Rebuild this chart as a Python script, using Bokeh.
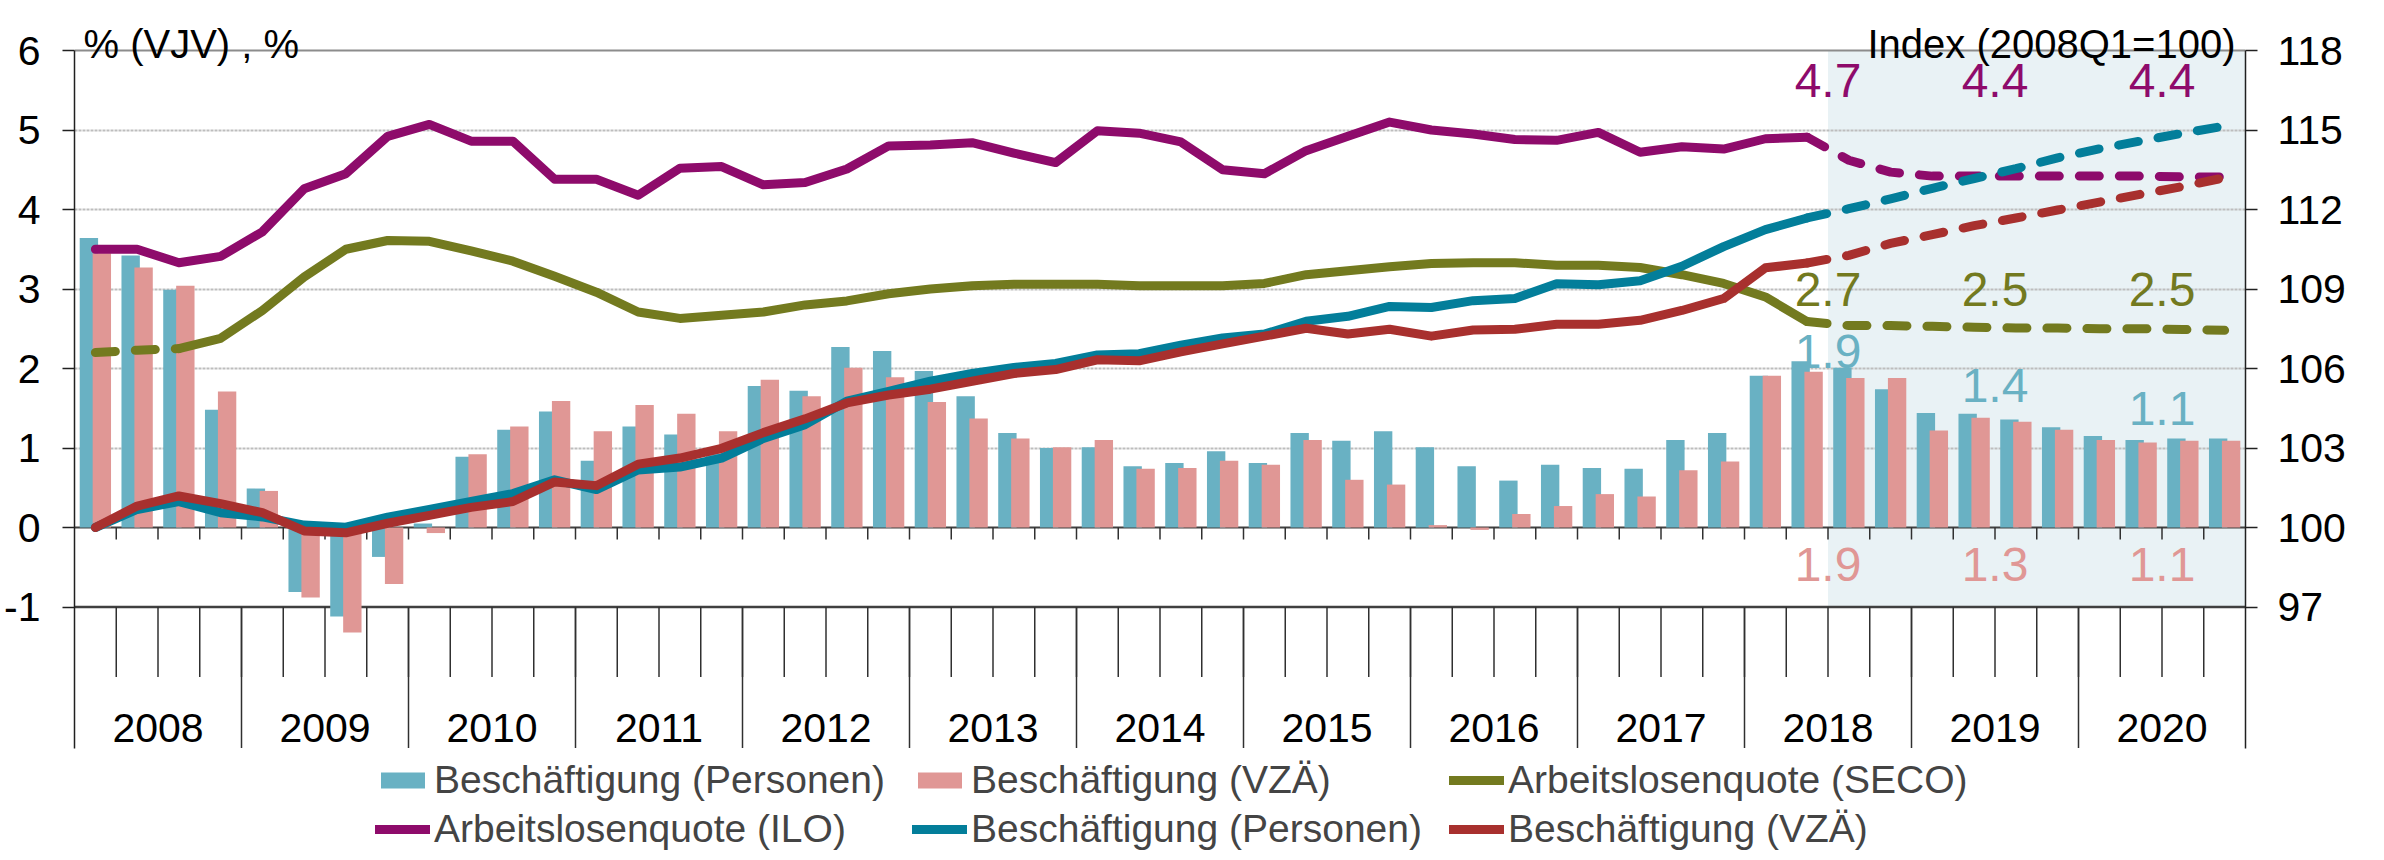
import numpy as np
from bokeh.plotting import figure
from bokeh.models import (Range1d, LinearAxis, FixedTicker, Legend, LegendItem)
from bokeh.core.properties import value
from bokeh.embed import file_html
from bokeh.resources import INLINE

# ---------------- data ----------------
years = ["2008", "2009", "2010", "2011", "2012", "2013", "2014",
         "2015", "2016", "2017", "2018", "2019", "2020"]
quarters = [f"{y}Q{q}" for y in years for q in (1, 2, 3, 4)]
forecast_start = "2018Q3"      # shaded forecast area begins here
last_actual = "2018Q2"         # solid lines end here, dashed forecast after
seco_solid_start = "2008Q3"    # SECO series is dashed before this quarter

# Beschäftigung, % VJV (bars)
emp_persons_yoy = [3.64, 3.42, 2.99, 1.48, 0.49, -0.81, -1.12, -0.37,
                   0.05, 0.89, 1.23, 1.46, 0.84, 1.27, 1.17, 0.95,
                   1.78, 1.72, 2.27, 2.22, 1.97, 1.65, 1.19, 1.00,
                   1.01, 0.77, 0.81, 0.96, 0.81, 1.19, 1.09, 1.21,
                   1.01, 0.77, 0.59, 0.79, 0.75, 0.74, 1.10, 1.19,
                   1.91, 2.09, 2.01, 1.74, 1.44, 1.43, 1.36, 1.26,
                   1.15, 1.10, 1.12, 1.12]
emp_fte_yoy = [3.45, 3.27, 3.04, 1.71, 0.46, -0.88, -1.32, -0.71,
               -0.07, 0.92, 1.27, 1.59, 1.21, 1.54, 1.43, 1.21,
               1.86, 1.65, 2.01, 1.89, 1.58, 1.37, 1.12, 1.01,
               1.10, 0.74, 0.75, 0.84, 0.79, 1.10, 0.60, 0.54,
               0.03, -0.03, 0.17, 0.27, 0.42, 0.39, 0.72, 0.83,
               1.91, 1.96, 1.88, 1.88, 1.22, 1.38, 1.33, 1.23,
               1.10, 1.07, 1.09, 1.09]

# Arbeitslosenquoten, %
ilo_rate = [3.50, 3.50, 3.33, 3.41, 3.72, 4.26, 4.45, 4.92,
            5.07, 4.86, 4.86, 4.38, 4.38, 4.18, 4.52, 4.54,
            4.31, 4.34, 4.51, 4.80, 4.81, 4.84, 4.71, 4.59,
            4.99, 4.96, 4.85, 4.50, 4.45, 4.74, 4.92, 5.10,
            5.00, 4.95, 4.88, 4.87, 4.97, 4.72, 4.79, 4.76,
            4.89, 4.91, 4.62, 4.47, 4.42, 4.42, 4.42, 4.42,
            4.42, 4.42, 4.41, 4.41]
seco_rate = [2.20, 2.23, 2.25, 2.38, 2.73, 3.15, 3.50, 3.61,
             3.60, 3.48, 3.35, 3.16, 2.96, 2.71, 2.63, 2.67,
             2.71, 2.80, 2.85, 2.94, 3.00, 3.04, 3.06, 3.06,
             3.06, 3.04, 3.04, 3.04, 3.07, 3.18, 3.23, 3.28,
             3.32, 3.33, 3.33, 3.30, 3.30, 3.27, 3.18, 3.07,
             2.90, 2.59, 2.54, 2.54, 2.53, 2.52, 2.51, 2.51,
             2.50, 2.50, 2.49, 2.48]

# Beschäftigung, Index 2008Q1=100
emp_persons_idx = [100.00, 100.68, 100.98, 100.56, 100.40, 100.09, 100.01, 100.39,
                   100.68, 100.98, 101.28, 101.80, 101.43, 102.17, 102.28, 102.62,
                   103.36, 103.88, 104.77, 105.14, 105.52, 105.81, 106.04, 106.19,
                   106.51, 106.56, 106.88, 107.15, 107.30, 107.78, 107.97, 108.34,
                   108.30, 108.56, 108.64, 109.20, 109.16, 109.31, 109.86, 110.60,
                   111.24, 111.68, 112.03, 112.40, 112.80, 113.17, 113.54, 113.95,
                   114.29, 114.59, 114.88, 115.15]
emp_fte_idx = [100.00, 100.81, 101.19, 100.90, 100.56, 99.87, 99.80, 100.16,
               100.46, 100.76, 100.98, 101.72, 101.58, 102.39, 102.62, 102.99,
               103.58, 104.10, 104.70, 105.00, 105.22, 105.52, 105.81, 105.96,
               106.33, 106.29, 106.63, 106.93, 107.22, 107.52, 107.30, 107.48,
               107.22, 107.45, 107.48, 107.67, 107.67, 107.82, 108.19, 108.64,
               109.80, 109.98, 110.27, 110.72, 111.05, 111.39, 111.68, 111.98,
               112.28, 112.58, 112.87, 113.20]

# annual averages shown as labels
label_years = ["2018", "2019", "2020"]
ilo_annual = [4.7, 4.4, 4.4]
seco_annual = [2.7, 2.5, 2.5]
persons_annual = [1.9, 1.4, 1.1]
fte_annual = [1.9, 1.3, 1.1]

left_ticks = [-1, 0, 1, 2, 3, 4, 5, 6]
right_ticks = [97, 100, 103, 106, 109, 112, 115, 118]
title_left = "% (VJV) , %"
title_right = "Index (2008Q1=100)"

# ---------------- layout / style ----------------
FONT = "Liberation Sans"
C_BAR_P = "#69B1C3"
C_BAR_F = "#E09795"
C_ILO = "#8E0B6B"
C_SECO = "#737A1F"
C_IDX_P = "#037E9A"
C_IDX_F = "#A8302E"
C_SHADE = "#E9F2F5"

W, H = 2368, 852
PX_PER_UNIT = 79.5            # vertical pixels per percentage point
TOP_PX = 50                   # canvas y of the 6 % line
Y_TOP, Y_BASE = 6.0, -1.0
Y_MAX = Y_TOP + TOP_PX / PX_PER_UNIT
Y_BASE_PX = TOP_PX + (Y_TOP - Y_BASE) * PX_PER_UNIT
Y_MIN = Y_BASE - (H - Y_BASE_PX) / PX_PER_UNIT
Y_SEP = Y_BASE - 141 / PX_PER_UNIT          # bottom of year separators
QTICK_LEN = 70 / PX_PER_UNIT
ZTICK_LEN = 12 / PX_PER_UNIT
FRAME_W = 2171
n = len(quarters)
PX_PER_Q = FRAME_W / n

xc = np.arange(n) + 0.5
fc = quarters.index(forecast_start)
la = quarters.index(last_actual)
ss = quarters.index(seco_solid_start)

p = figure(width=W, height=H, output_backend="svg", toolbar_location=None,
           x_range=Range1d(0, n), y_range=Range1d(Y_MIN, Y_MAX),
           x_axis_location=None, y_axis_location="left",
           min_border_left=74, min_border_right=W - 74 - FRAME_W,
           min_border_top=0, min_border_bottom=0)
p.outline_line_color = None
p.background_fill_color = "white"
p.border_fill_color = "white"
p.extra_y_ranges = {"idx": Range1d(100 + 3 * Y_MIN, 100 + 3 * Y_MAX)}

# forecast shading
sh = p.quad(left=[fc], right=[n], bottom=[Y_BASE], top=[Y_TOP],
            fill_color=C_SHADE, line_color=None)
sh.level = "image"

# grid
for g in p.xgrid:
    g.visible = False
p.ygrid.ticker = FixedTicker(ticks=[1, 2, 3, 4, 5])
p.ygrid.grid_line_color = "#BDBDBD"
p.ygrid.grid_line_width = 2
p.ygrid.grid_line_dash = "3 1"

# axes
ax = p.yaxis[0]
ax.ticker = FixedTicker(ticks=left_ticks)
ax.bounds = (Y_SEP, Y_TOP)
ax.major_label_overrides = {t: str(t) for t in left_ticks}
ax2 = LinearAxis(y_range_name="idx", ticker=FixedTicker(ticks=right_ticks),
                 bounds=(100 + 3 * Y_SEP, 100 + 3 * Y_TOP))
p.add_layout(ax2, "right")
for a in (ax, ax2):
    a.axis_line_color = "#202020"
    a.axis_line_width = 1.5
    a.major_tick_in = 0
    a.major_tick_out = 12
    a.major_tick_line_color = "#202020"
    a.major_tick_line_width = 1.5
    a.minor_tick_line_color = None
    a.major_label_text_font = FONT
    a.major_label_text_font_size = "41px"
    a.major_label_text_color = "black"
ax.major_label_standoff = 22
ax2.major_label_standoff = 20

# horizontal reference lines
p.segment(x0=[0], y0=[Y_TOP], x1=[n], y1=[Y_TOP], line_color="#8C8C8C", line_width=2)
p.segment(x0=[0], y0=[Y_BASE], x1=[n], y1=[Y_BASE], line_color="#404040", line_width=2.5)
p.segment(x0=[0], y0=[0], x1=[n], y1=[0], line_color="#404040", line_width=2)

# category axis drawn below the -1 line
bounds = np.arange(1, n)
year_bounds = np.arange(4, n, 4)
nb = len(bounds)
p.segment(x0=bounds, y0=[0] * nb, x1=bounds, y1=[-ZTICK_LEN] * nb,
          line_color="#303030", line_width=1.5)
p.segment(x0=bounds, y0=[Y_BASE] * nb, x1=bounds, y1=[Y_BASE - QTICK_LEN] * nb,
          line_color="#303030", line_width=1.5)
p.segment(x0=year_bounds, y0=[Y_BASE] * len(year_bounds), x1=year_bounds,
          y1=[Y_SEP] * len(year_bounds), line_color="#303030", line_width=1.5)
year_centers = [years.index(y) * 4 + 2 for y in years]
p.text(x=year_centers, y=[Y_BASE - 121 / PX_PER_UNIT] * len(years), text=years,
       text_font=value(FONT), text_font_size="41px", text_align="center",
       text_baseline="middle", text_color="black")

# bars
off, bw = 0.155, 0.44
r_bp = p.vbar(x=xc - off, top=emp_persons_yoy, width=bw, fill_color=C_BAR_P, line_color=None)
r_bf = p.vbar(x=xc + off, top=emp_fte_yoy, width=bw, fill_color=C_BAR_F, line_color=None)

LW = 9
DASH = "20 20"

def line_parts(vals, color, y_range_name="default", solid_from=0):
    kw = dict(line_color=color, line_width=LW, line_cap="round", line_join="round",
              y_range_name=y_range_name)
    r_s = p.line(x=xc[solid_from:la + 1], y=vals[solid_from:la + 1], **kw)
    p.line(x=xc[la:], y=vals[la:], line_dash=DASH, **kw)
    if solid_from > 0:
        p.line(x=xc[:solid_from + 1], y=vals[:solid_from + 1], line_dash=DASH, **kw)
    return r_s

r_seco = line_parts(seco_rate, C_SECO, solid_from=ss)
r_ilo = line_parts(ilo_rate, C_ILO)
r_ip = line_parts(emp_persons_idx, C_IDX_P, "idx")
r_if = line_parts(emp_fte_idx, C_IDX_F, "idx")

# annual labels
lab_x = [years.index(y) * 4 + 2 for y in label_years]
LAB_FS = "48px"
def labels(vals, ys, color):
    p.text(x=lab_x, y=ys, text=[f"{v:.1f}" for v in vals], text_font=value(FONT),
           text_font_size=LAB_FS, text_align="center", text_baseline="middle",
           text_color=color)
labels(ilo_annual, [5.62] * 3, C_ILO)
labels(seco_annual, [3.0] * 3, C_SECO)
labels(persons_annual, [2.21, 1.78, 1.50], C_BAR_P)
labels(fte_annual, [-0.46] * 3, C_BAR_F)

# axis titles
t_y = Y_TOP + 7 / PX_PER_UNIT
p.text(x=[9 / PX_PER_Q], y=[t_y], text=[title_left], text_font=value(FONT),
       text_font_size="40px", text_align="left", text_baseline="alphabetic",
       text_color="black")
p.text(x=[n - 10 / PX_PER_Q], y=[t_y], text=[title_right], text_font=value(FONT),
       text_font_size="40px", text_align="right", text_baseline="alphabetic",
       text_color="black")

# legend: two rows, equal label widths so the columns line up
rows = [
    [("Beschäftigung (Personen)", r_bp), ("Beschäftigung (VZÄ)", r_bf),
     ("Arbeitslosenquote (SECO)", r_seco)],
    [("Arbeitslosenquote (ILO)", r_ilo), ("Beschäftigung (Personen)", r_ip),
     ("Beschäftigung (VZÄ)", r_if)],
]
row_center_px = [780, 829]
ROW_H = 44
for row, cy in zip(rows, row_center_px):
    leg = Legend(items=[LegendItem(label=t, renderers=[r]) for t, r in row],
                 orientation="horizontal", location=(301, H - (cy + ROW_H / 2)),
                 padding=0, margin=0, spacing=20, glyph_width=55, glyph_height=20,
                 label_standoff=4, label_height=ROW_H, label_width=458,
                 label_text_font=FONT, label_text_font_size="39px",
                 background_fill_alpha=0, border_line_color=None)
    p.add_layout(leg, "center")

open("out.html", "w").write(file_html(p, INLINE))
